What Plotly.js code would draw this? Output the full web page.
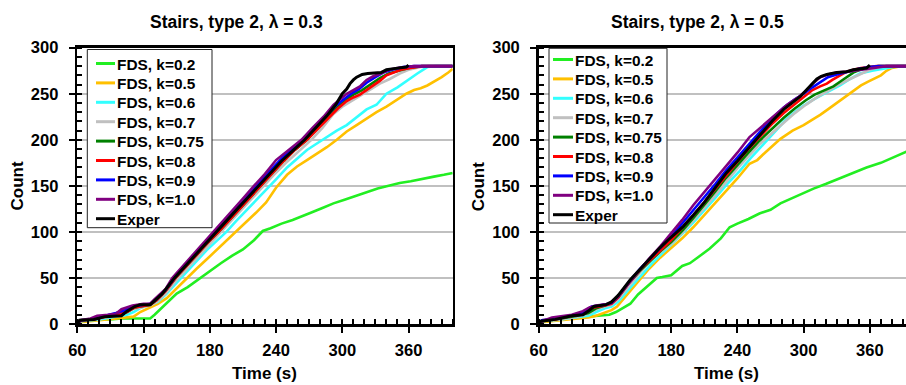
<!DOCTYPE html>
<html>
<head>
<meta charset="utf-8">
<script src="https://cdn.plot.ly/plotly-3.0.1.min.js"></script>
<style>
html,body{margin:0;padding:0;overflow:hidden;background:#fff;}
#chart{width:920px;height:385px;}
</style>
</head>
<body>
<div id="chart"></div>
<script>
// ---------- Data ----------
const seriesNames = ["FDS, k=0.2","FDS, k=0.5","FDS, k=0.6","FDS, k=0.7","FDS, k=0.75","FDS, k=0.8","FDS, k=0.9","FDS, k=1.0","Exper"];
const seriesColors = ["#22ee22","#ffc000","#33ffff","#c0c0c0","#008000","#ff0000","#0000ff","#800080","#000000"];
const titleLeft = "Stairs, type 2, λ = 0.3";
const titleRight = "Stairs, type 2, λ = 0.5";
const xTicks = [60,120,180,240,300,360];

// Left panel (lambda = 0.3)
const L_t_k02 = [60,65,75,90,100,126,130,135,142,150,160,170,180,190,200,210,220,228,235,245,255,262,272,282,292,302,312,322,332,342,352,362,372,383,392,400];
const L_c_k02 = [0,3,5,5,6,6,10,16,24,33,40,49,57,66,74,81,91,101,104,109,113,116,121,126,131,135,139,143,147,150,153,155,157,160,162,164];
const L_t_k05 = [60,63,80,95,105,111,117,126,133,141,150,159,168,177,186,195,204,213,222,231,240,250,259,268,277,286,295,304,313,322,331,340,350,358,365,371,377,383,390,396,400];
const L_c_k05 = [0,2,4,6,7,8,13,18,22,28,39,50,60,70,80,90,100,111,121,132,148,162,171,178,185,192,200,209,216,223,230,236,244,250,254,256,259,263,268,273,277];
const L_t_k06 = [60,63,80,95,105,111,118,126,133,141,150,159,168,177,186,195,204,213,222,231,240,250,259,268,277,286,295,304,313,322,331,340,350,358,368,377,385,400];
const L_c_k06 = [0,3,5,8,10,13,18,21,24,33,45,57,69,80,90,100,112,123,134,145,157,170,180,189,196,203,210,216,224,233,238,250,257,264,272,279,280,280];
const L_t_k07 = [60,63,75,90,100,110,120,126,132,140,150,160,170,180,190,199,209,219,228,238,249,260,272,282,292,300,310,318,326,334,343,352,360,371,378,400];
const L_c_k07 = [0,3,5,8,10,16,19,20,24,33,48,61,74,86,99,111,124,137,149,162,175,187,200,213,228,236,243,249,255,261,266,272,276,279,280,280];
const L_t_k075 = [60,63,75,85,95,105,112,120,126,132,140,149,158,168,178,188,197,207,217,226,236,247,257,268,278,288,296,304,310,318,326,334,342,350,360,372,400];
const L_c_k075 = [0,4,5,8,10,13,18,20,21,26,36,50,62,75,88,100,112,125,138,150,163,177,189,200,213,226,236,244,249,254,261,267,272,275,278,280,280];
const L_t_k08 = [60,63,75,85,95,105,112,120,126,132,140,149,158,168,178,188,197,207,217,226,236,247,257,268,278,288,296,304,310,316,322,328,334,340,346,353,362,372,400];
const L_c_k08 = [0,4,5,8,10,13,18,20,21,26,36,50,62,75,88,100,112,125,138,150,163,177,189,200,212,225,234,242,246,249,254,259,264,270,273,276,278,280,280];
const L_t_k09 = [60,63,75,85,95,103,110,120,126,132,140,148,157,166,176,185,194,203,213,222,232,243,253,264,274,285,294,302,308,315,322,330,337,345,355,365,400];
const L_c_k09 = [0,4,5,9,12,15,19,21,22,27,37,50,62,75,88,100,112,124,137,150,163,177,189,200,212,225,237,245,250,255,262,268,273,276,279,280,280];
const L_t_k10 = [60,63,72,78,88,95,100,105,110,120,126,130,140,146,155,165,175,183,192,200,210,220,230,240,250,263,273,283,292,300,304,310,316,322,328,335,342,350,356,365,400];
const L_c_k10 = [0,4,6,9,10,11,16,18,20,22,22,27,38,50,62,76,89,100,112,123,136,150,163,178,188,200,213,225,238,246,250,254,258,265,269,272,276,278,279,280,280];
const L_t_exp = [60,62,75,85,100,105,112,117,126,130,137,148,157,167,177,186,196,205,215,224,234,245,256,266,276,286,294,300,304,307,310,313,318,323,335,340,345,353,358,360];
const L_c_exp = [0,4,5,8,9,14,19,21,21,25,33,50,62,75,88,100,113,125,138,150,163,177,189,200,213,226,238,250,255,261,265,268,271,272,273,276,277,278,279,281];

// Right panel (lambda = 0.5)
const R_t_k02 = [60,63,75,85,97,110,124,130,136,143,150,160,167,172,180,190,197,205,215,225,233,240,250,260,270,279,290,300,309,320,330,345,357,370,380,393,400];
const R_c_k02 = [0,3,5,6,8,9,10,13,17,22,32,43,50,51,53,63,66,73,82,93,105,109,114,120,124,131,137,142,147,152,157,164,170,175,180,187,189];
const R_t_k05 = [60,63,80,95,105,112,120,126,131,140,150,160,170,180,190,200,210,220,230,240,251,258,265,272,279,290,300,308,315,322,330,339,346,352,358,363,370,375,380,388,400];
const R_c_k05 = [0,2,4,6,7,9,12,15,19,32,46,60,72,82,93,105,118,131,144,158,174,178,186,194,201,210,216,222,227,233,240,248,254,259,263,266,270,275,278,280,280];
const R_t_k06 = [60,63,80,95,105,112,120,126,132,142,152,162,172,180,190,200,210,220,230,242,252,262,272,284,296,308,320,333,342,351,362,375,385,400];
const R_c_k06 = [0,3,5,7,9,13,17,19,24,38,52,65,77,86,98,110,123,137,151,166,180,193,206,222,234,243,251,259,266,272,275,278,280,280];
const R_t_k07 = [60,63,80,95,105,112,120,126,132,142,152,162,172,180,190,200,210,220,230,240,250,260,272,282,292,302,312,322,332,342,352,360,368,375,400];
const R_c_k07 = [0,3,5,8,11,16,19,21,27,42,56,70,80,87,99,112,126,140,155,169,182,195,208,219,229,238,246,253,260,266,272,276,279,280,280];
const R_t_k075 = [60,63,75,85,95,105,112,120,126,132,142,152,162,172,180,190,200,210,220,230,240,250,260,272,282,292,302,310,318,327,333,339,345,351,360,368,400];
const R_c_k075 = [0,3,5,7,9,12,17,20,23,29,45,58,70,81,89,101,115,129,144,159,173,186,199,213,224,234,243,249,253,258,263,268,273,276,279,280,280];
const R_t_k08 = [60,63,75,85,95,103,110,120,126,132,142,152,162,172,180,190,200,210,220,230,240,250,260,272,282,292,300,308,315,321,326,330,335,339,345,352,360,366,400];
const R_c_k08 = [0,4,5,8,10,14,18,20,22,29,45,59,71,82,91,104,118,132,147,162,176,190,203,218,229,239,247,254,258,261,265,268,271,274,276,278,279,280,280];
const R_t_k09 = [60,63,75,85,95,102,108,120,126,132,142,152,162,172,180,190,200,210,220,230,240,250,260,272,282,292,300,308,315,322,330,340,350,360,368,400];
const R_c_k09 = [0,4,6,8,10,14,19,21,23,30,46,60,73,85,95,109,123,137,152,167,181,195,208,224,235,244,250,257,263,268,271,274,277,279,280,280];
const R_t_k10 = [60,65,72,80,90,100,106,112,124,130,140,150,160,170,180,190,200,210,220,230,240,251,260,270,278,285,295,303,309,315,322,330,340,351,360,369,375,400];
const R_c_k10 = [0,4,7,8,10,14,18,20,22,27,42,57,71,84,98,113,129,143,157,171,186,203,212,222,230,238,246,254,262,268,271,273,274,276,278,279,280,280];
const R_t_exp = [60,62,75,82,90,100,105,110,121,126,132,143,152,161,170,178,186,191,200,210,220,230,240,250,260,272,282,290,297,304,308,312,316,321,330,339,345,352,357,360];
const R_c_exp = [0,3,5,7,9,10,14,19,21,24,31,48,60,72,83,92,100,106,118,132,148,164,177,191,204,221,233,241,247,256,261,266,269,271,273,274,276,277,278,281];

const leftT = [L_t_k02,L_t_k05,L_t_k06,L_t_k07,L_t_k075,L_t_k08,L_t_k09,L_t_k10,L_t_exp];
const leftC = [L_c_k02,L_c_k05,L_c_k06,L_c_k07,L_c_k075,L_c_k08,L_c_k09,L_c_k10,L_c_exp];
const rightT = [R_t_k02,R_t_k05,R_t_k06,R_t_k07,R_t_k075,R_t_k08,R_t_k09,R_t_k10,R_t_exp];
const rightC = [R_c_k02,R_c_k05,R_c_k06,R_c_k07,R_c_k075,R_c_k08,R_c_k09,R_c_k10,R_c_exp];

// ---------- Figure ----------
const W = 920, H = 385;
const FONT = "Liberation Sans, Arial, Helvetica, sans-serif";
const px = v => v / W;
const py = v => 1 - v / H;

const traces = [];
seriesNames.forEach((n,i)=>{
  traces.push({x:leftT[i], y:leftC[i], name:n, type:'scatter', mode:'lines',
    line:{color:seriesColors[i], width:i===8?3:2.6}, xaxis:'x', yaxis:'y', showlegend:false});
});
seriesNames.forEach((n,i)=>{
  traces.push({x:rightT[i], y:rightC[i], name:n, type:'scatter', mode:'lines',
    line:{color:seriesColors[i], width:i===8?3:2.6}, xaxis:'x2', yaxis:'y2', showlegend:false});
});

const yDom = [py(324), py(47.7)];
const xDomL = [px(77.3), px(452.7)];
const xDomR = [px(538.7), px(914)];
const tickFont = {family:FONT, size:16.5, color:'#000', weight:'bold'};

function xax(dom, anchor){
  return {domain:dom, anchor:anchor, range:[60,400], tickvals:xTicks, ticks:'outside', ticklen:6, tickwidth:2,
    tickcolor:'#000', showline:true, linecolor:'#000', linewidth:2.6, mirror:true, showgrid:false, zeroline:false,
    tickfont:tickFont, ticklabelstandoff:4,
    minor:{dtick:10, ticks:'inside', ticklen:5, tickwidth:2, tickcolor:'#000', showgrid:false}, fixedrange:true};
}
function yax(anchor){
  return {domain:yDom, anchor:anchor, range:[0,300], dtick:50, ticks:'outside', ticklen:6, tickwidth:2,
    tickcolor:'#000', showline:true, linecolor:'#000', linewidth:2.6, mirror:true, showgrid:true, gridcolor:'#c0c0c0', gridwidth:2,
    zeroline:false, tickfont:tickFont, ticklabelstandoff:7,
    minor:{dtick:10, ticks:'inside', ticklen:5, tickwidth:2, tickcolor:'#000', showgrid:false}, fixedrange:true};
}
function ovX(over, anchor){
  return {overlaying:over, matches:over, anchor:anchor, tickvals:xTicks, ticks:'inside', ticklen:5, tickwidth:2, tickcolor:'#000',
    showticklabels:false, showgrid:false, showline:false, zeroline:false, side:'bottom', range:[60,400]};
}
function ovY(over, anchor){
  return {overlaying:over, matches:over, anchor:anchor, dtick:50, ticks:'inside', ticklen:5, tickwidth:2, tickcolor:'#000',
    showticklabels:false, showgrid:false, showline:false, zeroline:false, side:'left', range:[0,300]};
}

// ---------- Custom legends (box, line samples, labels) ----------
const shapes = [];
const annotations = [];
const legFont = {family:FONT, size:15.4, color:'#000', weight:'bold'};
function addLegend(box, lineX0, lineX1, textX, firstY, step){
  shapes.push({type:'rect', xref:'paper', yref:'paper', x0:px(box[0]), x1:px(box[1]), y0:py(box[3]), y1:py(box[2]),
    fillcolor:'#fff', line:{color:'#222', width:1}, layer:'above'});
  seriesNames.forEach((n,i)=>{
    const yy = firstY + i*step;
    shapes.push({type:'line', xref:'paper', yref:'paper', x0:px(lineX0), x1:px(lineX1), y0:py(yy), y1:py(yy),
      line:{color:seriesColors[i], width:3}, layer:'above'});
    annotations.push({text:'<b>'+n+'</b>', xref:'paper', yref:'paper', x:px(textX), y:py(yy+0.5), xanchor:'left', yanchor:'middle',
      showarrow:false, font:legFont, borderpad:0});
  });
}
addLegend([87.3,212,49.5,227.7], 96, 115, 116, 63.5, 19.4);
addLegend([549,667,48.3,223], 553, 573, 574, 59.5, 19.4);

const annFont = {family:FONT, size:17.5, color:'#000', weight:'bold'};
const axFont = {family:FONT, size:17, color:'#000', weight:'bold'};
annotations.push(
  {text:titleLeft, xref:'paper', yref:'paper', x:px(236), y:py(22), xanchor:'center', yanchor:'middle', showarrow:false, font:annFont},
  {text:titleRight, xref:'paper', yref:'paper', x:px(697.5), y:py(22), xanchor:'center', yanchor:'middle', showarrow:false, font:annFont},
  {text:'Count', xref:'paper', yref:'paper', x:px(17), y:py(186.5), xanchor:'center', yanchor:'middle', textangle:-90, showarrow:false, font:axFont},
  {text:'Count', xref:'paper', yref:'paper', x:px(478.7), y:py(186.5), xanchor:'center', yanchor:'middle', textangle:-90, showarrow:false, font:axFont},
  {text:'Time (s)', xref:'paper', yref:'paper', x:px(264.3), y:py(373), xanchor:'center', yanchor:'middle', showarrow:false, font:axFont},
  {text:'Time (s)', xref:'paper', yref:'paper', x:px(726.3), y:py(373), xanchor:'center', yanchor:'middle', showarrow:false, font:axFont}
);

const layout = {
  width:W, height:H, margin:{l:0,r:0,t:0,b:0}, paper_bgcolor:'#fff', plot_bgcolor:'#fff',
  xaxis: xax(xDomL,'y'), yaxis: yax('x'),
  xaxis2: xax(xDomR,'y2'), yaxis2: yax('x2'),
  xaxis3: ovX('x','y'), yaxis3: ovY('y','x'),
  xaxis4: ovX('x2','y2'), yaxis4: ovY('y2','x2'),
  showlegend:false,
  shapes: shapes,
  annotations: annotations
};
// empty traces so the overlay tick axes are drawn (no visible marks)
traces.push({x:[], y:[], xaxis:'x3', yaxis:'y3', showlegend:false, hoverinfo:'skip', type:'scatter'});
traces.push({x:[], y:[], xaxis:'x4', yaxis:'y4', showlegend:false, hoverinfo:'skip', type:'scatter'});

Plotly.newPlot('chart', traces, layout, {staticPlot:true, displayModeBar:false});
</script>
</body>
</html>
